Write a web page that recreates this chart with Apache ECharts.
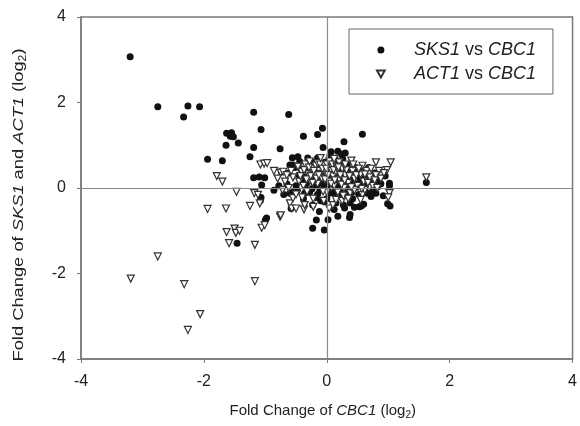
<!DOCTYPE html>
<html>
<head>
<meta charset="utf-8">
<script src="https://cdn.jsdelivr.net/npm/echarts@6/dist/echarts.min.js"></script>
<style>html,body{margin:0;padding:0;background:#fff}#c{width:580px;height:426px}</style>
</head>
<body>
<div id="c"></div>
<script>
const seriesNames = ['SKS1 vs CBC1', 'ACT1 vs CBC1'];
const axisTicks = [-4, -2, 0, 2, 4];
const sks1VsCbc1 = [
  [-3.20,3.07],[-2.75,1.90],[-2.33,1.66],[-2.26,1.92],[-2.07,1.90],
  [-1.19,1.77],[-0.62,1.72],
  [-1.63,1.28],[-1.55,1.29],[-1.57,1.21],[-1.52,1.20],
  [-1.64,1.00],[-1.44,1.05],[-1.07,1.37],[-1.19,0.95],[-0.76,0.92],
  [-0.38,1.21],[-0.15,1.25],[-0.07,1.40],[0.28,1.08],[0.58,1.26],
  [-1.94,0.67],[-1.70,0.64],[-1.25,0.73],
  [-1.19,0.24],[-1.10,0.26],[-1.01,0.24],[-1.06,0.07],[-0.86,-0.05],
  [-1.07,-0.22],[-1.08,-0.29],
  [-1.00,-0.75],[-0.98,-0.70],[-1.46,-1.29],
  [-0.56,0.71],[-0.47,0.73],[-0.06,0.95],[0.07,0.85],[-0.31,0.70],
  [0.18,0.86],[0.24,0.79],[0.30,0.82],[0.10,0.65],
  [-0.74,0.38],[-0.60,0.54],[-0.55,0.54],
  [-0.60,-0.12],[-0.58,-0.48],[-0.23,-0.40],[-0.04,-0.32],
  [-0.23,-0.94],[-0.04,-0.98],[-0.17,-0.75],[0.02,-0.74],
  [0.18,-0.66],[0.37,-0.69],[0.38,-0.62],[0.27,-0.40],[0.29,-0.47],
  [0.56,-0.42],[0.60,-0.38],[0.99,-0.37],[1.03,-0.42],[0.53,-0.44],
  [1.02,0.11],[1.02,0.05],[0.83,0.03],[0.84,0.15],[0.80,-0.12],
  [1.62,0.13],
  [-0.45,0.30],[-0.40,0.15],[-0.35,0.05],[-0.30,0.40],[-0.28,-0.10],[-0.25,0.22],
  [-0.22,0.50],[-0.20,0.05],[-0.18,0.35],[-0.15,-0.15],[-0.12,0.15],[-0.10,0.45],
  [-0.08,0.28],[-0.05,0.00],[-0.03,0.60],[0.00,0.20],[0.02,-0.05],[0.05,0.38],
  [0.08,0.10],[0.10,0.52],[0.12,-0.12],[0.15,0.25],[0.18,0.00],[0.20,0.40],
  [0.22,0.15],[0.25,-0.20],[0.28,0.30],[0.30,0.05],[0.33,0.55],[0.35,-0.08],
  [0.40,0.20],[0.42,-0.25],[0.45,0.35],[0.48,0.02],[0.52,-0.15],[0.55,0.20],
  [0.60,0.05],[0.62,-0.05],[0.70,0.15],[0.72,-0.20],[-0.50,0.05],[-0.55,-0.10],
  [-0.65,0.10],[-0.70,-0.15],[-0.38,-0.25],[-0.15,0.70],[0.05,0.75],[0.15,0.65],
  [-0.30,0.60],[-0.42,0.45],[0.00,-0.25],[-0.10,-0.30],[0.15,-0.35],[0.38,-0.35],
  [-0.35,0.25],[-0.32,0.12],[-0.27,0.35],[-0.24,-0.02],[-0.21,0.18],[-0.19,0.42],
  [-0.16,0.08],[-0.14,0.28],[-0.11,-0.05],[-0.09,0.12],[-0.07,0.38],[-0.04,0.18],
  [-0.02,0.30],[0.01,0.08],[0.03,0.42],[0.04,-0.12],[0.06,0.22],[0.09,0.32],
  [0.11,0.15],[0.13,0.45],[0.14,-0.02],[0.17,0.12],[0.19,0.30],[0.21,-0.08],
  [0.23,0.52],[0.26,0.10],[0.27,0.40],[0.31,-0.15],[0.34,0.28],[0.36,0.45],
  [0.39,0.05],[0.41,-0.10],[0.44,0.12],[0.47,0.48],[0.50,0.28],[0.53,0.10],
  [0.57,0.40],[0.63,0.25],[0.66,-0.12],[0.68,0.48],[0.75,-0.05],[0.78,0.35],
  [0.88,0.10],[0.92,-0.18],[0.95,0.28],[-0.62,0.35],[-0.48,-0.05],[-0.44,0.62],
  [-0.36,-0.12],[-0.25,0.62],[-0.18,-0.22],[0.08,0.62],[0.26,0.68],[-0.52,0.48],
  [-0.78,0.05],[0.12,-0.50],[-0.12,-0.55],[0.45,-0.45]
];
const act1VsCbc1 = [
  [-3.19,-2.12],[-2.75,-1.60],[-2.32,-2.25],[-2.06,-2.95],[-2.26,-3.32],[-1.17,-2.18],
  [-1.59,-1.29],[-1.17,-1.33],
  [-1.63,-1.03],[-1.50,-0.95],[-1.48,-1.05],[-1.42,-1.00],
  [-1.06,-0.93],[-1.01,-0.87],
  [-1.94,-0.49],[-1.64,-0.48],[-1.25,-0.42],[-1.09,-0.36],
  [-1.47,-0.09],[-1.18,-0.12],[-1.12,-0.16],
  [-1.79,0.28],[-1.70,0.15],
  [-1.08,0.55],[-1.02,0.57],[-0.97,0.58],
  [-0.86,0.40],[-0.75,0.36],[-0.71,0.38],
  [-0.76,-0.67],[-0.75,-0.64],
  [-0.60,-0.36],[-0.57,-0.48],[-0.50,-0.48],[-0.37,-0.50],[-0.22,-0.44],[-0.36,-0.40],[-0.55,-0.24],
  [0.04,-0.48],[0.10,-0.40],
  [0.40,0.64],[0.58,0.52],[0.80,0.60],[1.04,0.60],[0.85,0.40],[0.98,0.42],
  [1.02,-0.12],[1.00,-0.22],[0.58,-0.16],[0.62,-0.05],
  [1.62,0.25],
  [-0.41,0.38],[-0.30,0.32],[-0.25,0.45],[-0.45,0.15],[-0.38,0.05],[-0.32,-0.08],
  [-0.28,0.18],[-0.20,0.30],[-0.18,0.52],[-0.15,0.10],[-0.12,0.40],[-0.10,0.33],
  [-0.08,0.22],[-0.05,0.52],[-0.02,0.35],[0.00,-0.10],[0.03,0.15],[0.05,0.48],
  [0.08,0.40],[0.10,0.28],[0.12,0.05],[0.15,0.38],[0.18,-0.10],[0.20,0.20],
  [0.25,0.45],[0.28,0.00],[0.30,0.30],[0.35,0.12],[0.38,-0.12],[0.42,0.40],
  [0.45,0.22],[0.50,0.05],[0.55,0.32],[0.60,0.15],[0.65,0.40],[0.70,0.25],
  [0.75,0.05],[0.80,0.30],[-0.55,0.25],[-0.62,0.00],[-0.50,-0.15],[-0.65,0.30],
  [-0.22,-0.25],[0.00,0.55],[-0.15,0.58],[0.20,0.60],[-0.35,0.55],[0.15,-0.28],
  [-0.05,-0.30],[0.45,-0.05],[0.25,-0.30],
  [-0.43,0.28],[-0.37,0.42],[-0.33,0.20],[-0.29,0.48],[-0.26,0.28],[-0.23,0.12],
  [-0.21,0.40],[-0.17,0.22],[-0.13,0.30],[-0.11,0.55],[-0.07,0.45],[-0.06,-0.08],
  [-0.03,0.20],[-0.01,0.45],[0.02,0.30],[0.04,0.62],[0.07,0.10],[0.09,0.55],
  [0.11,0.42],[0.13,0.18],[0.16,0.50],[0.19,0.48],[0.22,0.30],[0.24,0.08],
  [0.27,-0.18],[0.29,0.18],[0.32,0.42],[0.37,0.28],[0.40,0.02],[0.43,0.55],
  [0.48,0.30],[0.52,0.45],[0.57,-0.02],[0.62,0.32],[0.67,0.12],[0.72,0.45],
  [0.78,0.18],[0.82,0.00],[0.88,0.22],[0.93,0.35],[-0.58,0.40],[-0.68,0.15],
  [-0.72,-0.05],[-0.47,0.50],[-0.40,-0.22],[-0.28,0.62],[-0.10,0.70],[0.12,0.68],
  [0.30,0.55],[-0.80,0.22],[0.55,-0.28],[0.35,-0.25]
];

const FONT = 'Liberation Sans, Arial, sans-serif';
const axisColor = '#7a7a7a';
const textColor = '#222';
const richName = {
  n: { fontFamily: FONT, fontSize: 15, color: textColor },
  i: { fontFamily: FONT, fontSize: 15, color: textColor, fontStyle: 'italic' },
  s: { fontFamily: FONT, fontSize: 10, color: textColor, padding: [9, 0, 0, 0] }
};
const chart = echarts.init(document.getElementById('c'), null, { renderer: 'canvas' });
chart.setOption({
  animation: false,
  backgroundColor: '#fff',
  grid: { left: 81, right: 6, top: 17, bottom: 67, show: true, borderColor: axisColor, borderWidth: 1.5, backgroundColor: 'transparent' },
  legend: {
    orient: 'vertical', left: 349, top: 29,
    padding: [12, 17, 11, 27], itemGap: 6,
    borderColor: '#666', borderWidth: 1,
    itemWidth: 8, itemHeight: 7,
    data: [
      { name: seriesNames[0], icon: 'circle' },
      { name: seriesNames[1], icon: 'path://M0,0L10,0L5,9Z' }
    ],
    formatter: function (name) {
      const p = name.split(' vs ');
      return '{i|' + p[0] + '}{n| vs }{i|' + p[1] + '}';
    },
    textStyle: {
      lineHeight: 17,
      padding: [0, 0, 0, 24],
      rich: {
        n: { fontFamily: FONT, fontSize: 18, color: textColor },
        i: { fontFamily: FONT, fontSize: 18, color: textColor, fontStyle: 'italic' }
      }
    }
  },
  graphic: [{
    type: 'text', x: 19, y: 205, rotation: Math.PI / 2, scaleX: 1.22,
    silent: true,
    style: {
      text: '{n|Fold Change of }{i|SKS1}{n| and }{i|ACT1}{n| (log}{s|2}{n|)}',
      rich: richName, align: 'center', verticalAlign: 'middle', fill: textColor
    }
  }],
  xAxis: {
    type: 'value', min: axisTicks[0], max: axisTicks[axisTicks.length - 1], interval: 2,
    axisLine: { onZero: false, lineStyle: { color: axisColor, width: 1.5 } },
    axisTick: { show: true, inside: false, length: 4, lineStyle: { color: axisColor } },
    splitLine: { show: false },
    axisLabel: { fontFamily: FONT, fontSize: 16, color: textColor, margin: 15 },
    name: '{n|Fold Change of }{i|CBC1}{n| (log}{s|2}{n|)}',
    nameLocation: 'middle', nameGap: 42,
    nameTextStyle: { rich: richName, padding: [0, 8, 0, 0] }
  },
  yAxis: {
    type: 'value', min: axisTicks[0], max: axisTicks[axisTicks.length - 1], interval: 2,
    axisLine: { onZero: false, lineStyle: { color: axisColor, width: 1.5 } },
    axisTick: { show: true, inside: false, length: 4, lineStyle: { color: axisColor } },
    splitLine: { show: false },
    axisLabel: { fontFamily: FONT, fontSize: 16, color: textColor, margin: 15 }
  },
  series: [
    {
      name: seriesNames[0], type: 'scatter', data: sks1VsCbc1,
      symbol: 'circle', symbolSize: 7,
      itemStyle: { color: '#111', opacity: 1 },
      z: 3,
      markLine: {
        silent: true, symbol: 'none', label: { show: false },
        lineStyle: { color: '#8a8a8a', type: 'solid', width: 1.2 },
        data: [{ xAxis: 0 }, { yAxis: 0 }]
      }
    },
    {
      name: seriesNames[1], type: 'scatter', data: act1VsCbc1,
      symbol: 'triangle', symbolRotate: 180, symbolSize: 7,
      itemStyle: { color: '#fff', borderColor: '#333', borderWidth: 1.2, opacity: 1 },
      z: 4
    }
  ]
});
</script>
</body>
</html>
